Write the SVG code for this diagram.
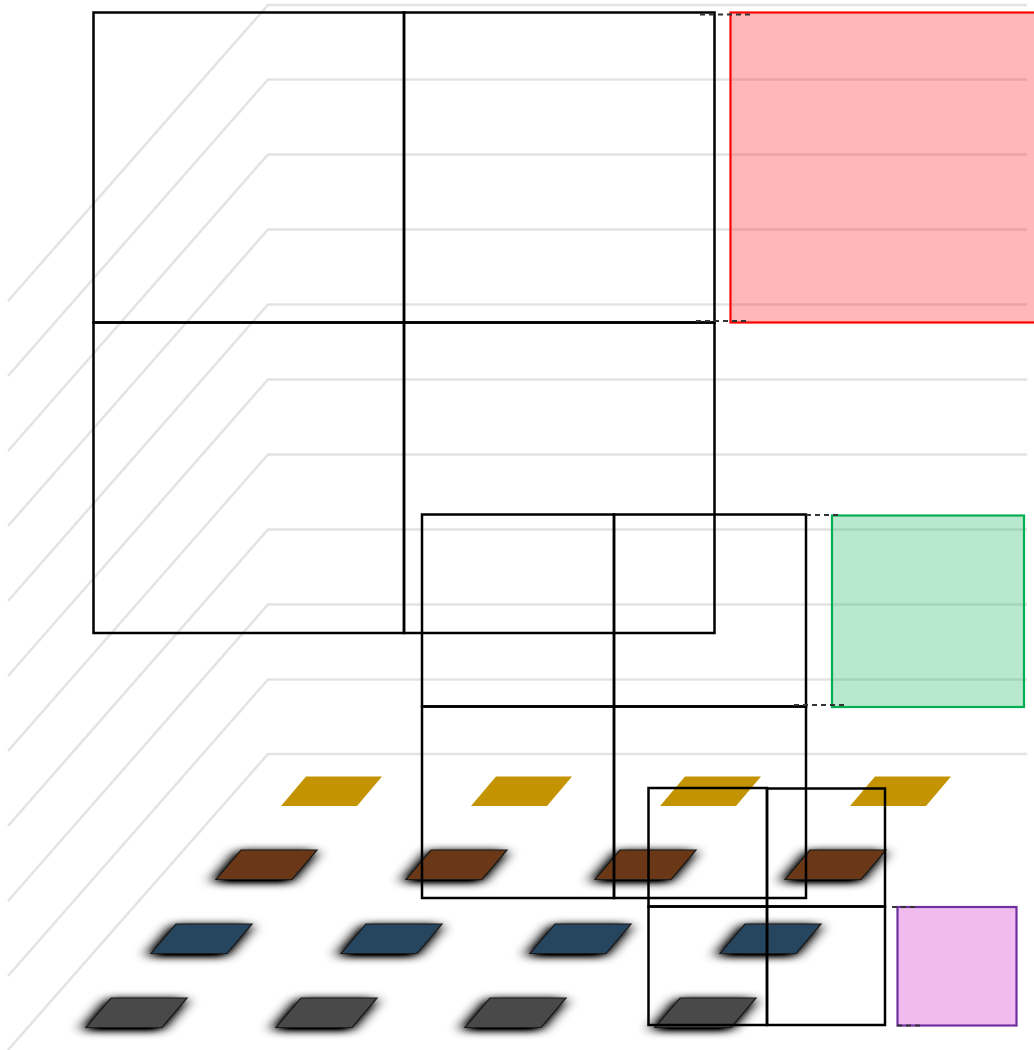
<svg xmlns="http://www.w3.org/2000/svg" width="1034" height="1050" viewBox="0 0 1034 1050">
<defs>
<style>
.grid{fill:none;stroke:#e3e3e3;stroke-width:2.5;}
.cell{fill:none;stroke:#000;stroke-width:2.5;}
.dash{fill:none;stroke:#333;stroke-width:2;stroke-dasharray:5 4;}
.tile{stroke:#1a1a1a;stroke-width:1.2;}
.y{fill:#c49400;}
.b{fill:#6b3817;}
.n{fill:#27455f;}
.g{fill:#4a4a4a;}
</style>
<filter id="sh" filterUnits="userSpaceOnUse" x="0" y="700" width="1034" height="350">
<feGaussianBlur in="SourceAlpha" stdDeviation="8 4"/>
<feOffset dx="-2" dy="2" result="b"/>
<feComponentTransfer in="b" result="s"><feFuncA type="linear" slope="1.6"/></feComponentTransfer>
<feMerge><feMergeNode in="s"/><feMergeNode in="SourceGraphic"/></feMerge>
</filter>
<path id="tile" d="M25,0 H101 L76,29.5 H0 Z"/>
</defs>
<rect width="1034" height="1050" fill="#fff"/>
<g id="background-grid">
<path class="grid" d="M8,301 L268,5 H1027"/>
<path class="grid" d="M8,376 L268,79.5 H1027"/>
<path class="grid" d="M8,451 L268,154.5 H1027"/>
<path class="grid" d="M8,526 L268,229.5 H1027"/>
<path class="grid" d="M8,601 L268,304.5 H1027"/>
<path class="grid" d="M8,676 L268,379.5 H1027"/>
<path class="grid" d="M8,751 L268,454.5 H1027"/>
<path class="grid" d="M8,826 L268,529.5 H1027"/>
<path class="grid" d="M8,901 L268,604.5 H1027"/>
<path class="grid" d="M8,976 L268,679.5 H1027"/>
<path class="grid" d="M8,1050 L268,754 H1027"/>
</g>
<g id="tiles">
<g id="row-yellow">
<use href="#tile" class="y" x="281" y="776.5"/>
<use href="#tile" class="y" x="471" y="776.5"/>
<use href="#tile" class="y" x="660" y="776.5"/>
<use href="#tile" class="y" x="850" y="776.5"/>
</g>
<g id="shadowed-rows" filter="url(#sh)">
<g id="row-brown">
<use href="#tile" class="b tile" x="216" y="850"/>
<use href="#tile" class="b tile" x="406" y="850"/>
<use href="#tile" class="b tile" x="595" y="850"/>
<use href="#tile" class="b tile" x="785" y="850"/>
</g>
<g id="row-blue">
<use href="#tile" class="n tile" x="151" y="924"/>
<use href="#tile" class="n tile" x="341" y="924"/>
<use href="#tile" class="n tile" x="530" y="924"/>
<use href="#tile" class="n tile" x="720" y="924"/>
</g>
<g id="row-grey">
<use href="#tile" class="g tile" x="86" y="998"/>
<use href="#tile" class="g tile" x="276" y="998"/>
<use href="#tile" class="g tile" x="465" y="998"/>
<use href="#tile" class="g tile" x="655" y="998"/>
</g>
</g>
</g>
<g id="red-square">
<rect x="730.5" y="12.5" width="312" height="310" fill="#ff0000" fill-opacity="0.28" stroke="#ff0000" stroke-width="2.2"/>
</g>
<g id="green-square">
<rect x="832" y="515.5" width="192" height="191.5" fill="#00b050" fill-opacity="0.28" stroke="#00b050" stroke-width="2.2"/>
</g>
<g id="purple-square">
<rect x="897.5" y="907" width="119" height="118.5" fill="#cc22cc" fill-opacity="0.3" stroke="#7030a0" stroke-width="2.2"/>
</g>
<g id="large-grid">
<rect class="cell" x="93.5" y="12.5" width="310.5" height="310"/>
<rect class="cell" x="404" y="12.5" width="310.5" height="310"/>
<rect class="cell" x="93.5" y="322.5" width="310.5" height="310.5"/>
<rect class="cell" x="404" y="322.5" width="310.5" height="310.5"/>
</g>
<g id="medium-grid">
<rect class="cell" x="422" y="514.5" width="192" height="192"/>
<rect class="cell" x="614" y="514.5" width="192" height="192"/>
<rect class="cell" x="422" y="706.5" width="192" height="191.5"/>
<rect class="cell" x="614" y="706.5" width="192" height="191.5"/>
</g>
<g id="small-grid">
<rect class="cell" x="648.5" y="788" width="118.5" height="118.5"/>
<rect class="cell" x="767" y="788.5" width="118" height="118"/>
<rect class="cell" x="648.5" y="906.5" width="118.5" height="118.5"/>
<rect class="cell" x="767" y="906.5" width="118" height="118.5"/>
</g>
<g id="connectors">
<line class="dash" x1="700" y1="14.5" x2="752" y2="14.5"/>
<line class="dash" x1="696" y1="321" x2="748" y2="321"/>
<line class="dash" x1="806" y1="515" x2="842" y2="515"/>
<line class="dash" x1="794" y1="705" x2="846" y2="705"/>
<line class="dash" x1="892" y1="907" x2="915" y2="907"/>
<line class="dash" x1="897" y1="1025.5" x2="920" y2="1025.5"/>
</g>
</svg>
